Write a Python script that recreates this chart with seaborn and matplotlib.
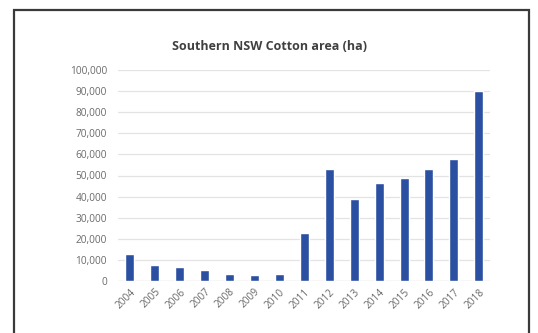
import matplotlib
matplotlib.use("Agg")
import matplotlib.pyplot as plt
import matplotlib.patches as mpatches
from matplotlib.ticker import FuncFormatter
import seaborn as sns
import pandas as pd

years = ["2004", "2005", "2006", "2007", "2008", "2009", "2010", "2011",
         "2012", "2013", "2014", "2015", "2016", "2017", "2018"]
area_ha = [12600, 7400, 6800, 5200, 3300, 2800, 3400, 22900,
           53200, 38700, 46600, 48700, 52900, 58000, 90000]
title = "Southern NSW Cotton area (ha)"

df = pd.DataFrame({"year": years, "area": area_ha})

sns.set_theme(style="white")
plt.rcParams["font.family"] = ["Open Sans", "DejaVu Sans"]

fig = plt.figure(figsize=(5.38, 3.33), dpi=100)
ax = fig.add_axes([118 / 538, 1 - 281 / 333, (490 - 118) / 538, (281 - 70) / 333])

sns.barplot(data=df, x="year", y="area", color="#2B50A2", saturation=1,
            width=0.36, ax=ax)

ax.set_ylim(0, 100000)
ax.set_xlim(-0.48, 14.45)
ax.set_yticks(range(0, 100001, 10000))
ax.yaxis.set_major_formatter(FuncFormatter(lambda v, _: f"{int(v):,}"))
ax.grid(axis="y", color="#e3e3e3", linewidth=0.9)
ax.set_axisbelow(True)
for s in ax.spines.values():
    s.set_visible(False)
ax.axhline(0, color="#d9d9d9", linewidth=0.9, zorder=0)
ax.set_xlabel("")
ax.set_ylabel("")
ax.tick_params(axis="both", length=0, labelsize=7.3, labelcolor="#6a6a6a")
ax.tick_params(axis="y", pad=8)
ax.tick_params(axis="x", pad=4)
plt.setp(ax.get_xticklabels(), rotation=45, ha="right", rotation_mode="anchor")

fig.text(270 / 538, 1 - 47 / 333, title, ha="center", va="center",
         fontsize=9, fontweight="bold", color="#404040")

# outer frame around the chart, open at the bottom edge
frame = mpatches.Rectangle((14 / 538, -0.05), (529 - 14) / 538, 1.05 - 10 / 333,
                           transform=fig.transFigure, fill=False,
                           edgecolor="#3a3a3a", linewidth=1.6)
fig.patches.append(frame)

fig.savefig("out.png", dpi=100)
